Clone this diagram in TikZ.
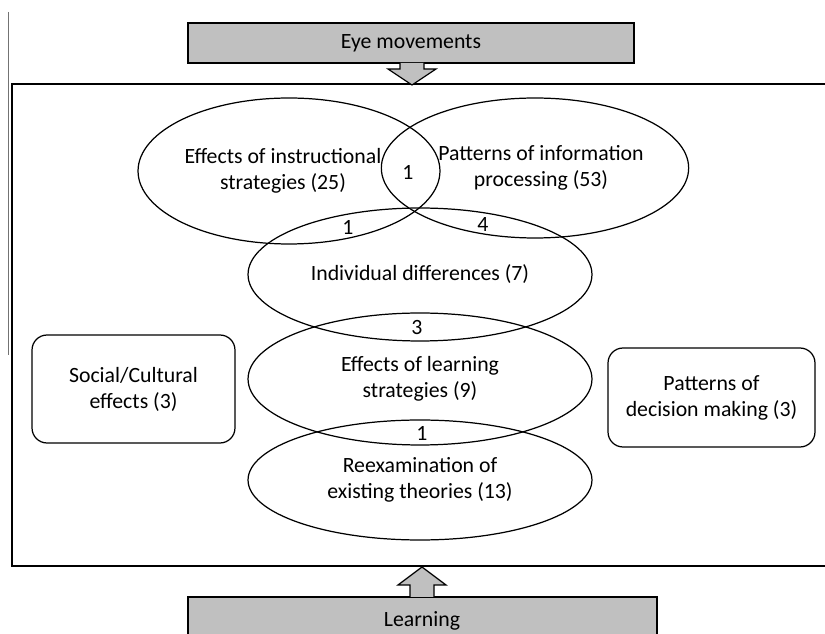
\documentclass[tikz,border=0pt]{standalone}
\usepackage{fontspec}
\setmainfont{Carlito}
\usetikzlibrary{shapes.geometric}
\definecolor{boxgray}{RGB}{192,192,192}
\tikzset{
	topic/.style={draw, ellipse, line width=0.7pt, inner sep=0pt, align=center},
	sidebox/.style={draw, rounded corners=0.3cm, line width=0.7pt, inner sep=0pt, align=center},
	headbox/.style={draw, fill=boxgray, line width=0.7pt, inner sep=0pt},
	overlap/.style={inner sep=0pt},
}

\begin{document}
\begin{tikzpicture}[x=0.02cm, y=-0.02cm, font=\fontsize{12.4}{14.8}\selectfont]
			%%%%% START %%%%%
			\useasboundingbox (0,0) rectangle (825,634);
			
			\draw[color=black!55, line width=1pt] (8.5, 12) -- (8.5, 355);
			
			% outer frame
			\draw[line width=0.8pt] (825, 84) -- (12, 84) -- (12, 566) -- (825, 566);
			
			% eye movements box and arrow
			\node[headbox, minimum width=8.92cm, minimum height=0.8cm] (eye) at (411, 43) {Eye movements};
			\draw[fill=boxgray, line width=0.7pt] (400, 63) -- (400, 69) -- (388, 69) -- (412, 85) -- (436, 69) -- (424, 69) -- (424, 63);
			
			% learning box and arrow
			\draw[fill=boxgray, line width=0.7pt] (188, 634) -- (188, 597) -- (657, 597) -- (657, 634);
			\node (learning) at (422, 621) {Learning};
			\draw[fill=boxgray, line width=0.7pt] (410, 597) -- (410, 585) -- (398, 585) -- (422, 567) -- (446, 585) -- (434, 585) -- (434, 597);
			
			% topics
			\node[topic, minimum width=6.04cm, minimum height=2.92cm] (instr) at (289, 171) {Effects of instructional\hspace*{0.24cm}\\strategies (25)\hspace*{0.24cm}};
			\node[topic, minimum width=6.0cm, minimum height=2.8cm] (info) at (535, 168) {\hspace*{0.24cm}Patterns of information\\\hspace*{0.24cm}processing (53)};
			\node[topic, minimum width=6.88cm, minimum height=2.66cm] (indiv) at (420, 274.5) {Individual differences (7)};
			\node[topic, minimum width=6.88cm, minimum height=2.64cm] (learnstr) at (420, 379) {Effects of learning\\strategies (9)};
			\node[topic, minimum width=6.88cm, minimum height=2.4cm] (reexam) at (420, 480) {Reexamination of\\existing theories (13)};
			
			\node[sidebox, minimum width=4.06cm, minimum height=2.16cm] (social) at (133.5, 389) {Social/Cultural\\effects (3)};
			\node[sidebox, minimum width=4.14cm, minimum height=1.98cm] (decision) at (711.5, 397.5) {Patterns of\\decision making (3)};
			
			% overlap counts
			\node[overlap] (n1) at (408, 172) {1};
			\node[overlap] (n2) at (348, 227) {1};
			\node[overlap] (n3) at (483, 225) {4};
			\node[overlap] (n4) at (417, 328) {3};
			\node[overlap] (n5) at (422, 433) {1};
			
			%%%%% END %%%%%
\end{tikzpicture}
\end{document}
